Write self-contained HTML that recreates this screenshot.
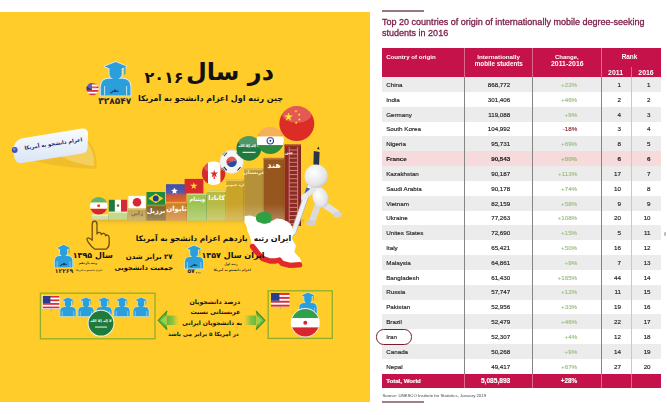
<!DOCTYPE html><html><head><meta charset="utf-8"><title>Top 20 countries</title>
<style>
html,body{margin:0;padding:0;background:#fff;}
#p{position:relative;width:667px;height:415px;overflow:hidden;background:#fff;font-family:"Liberation Sans",sans-serif;}
#y{position:absolute;left:0;top:12px;width:370px;height:390px;background:#FFCC29;}
#ig{position:absolute;left:0;top:0;width:370px;height:415px;}
#ig text{font-family:"DejaVu Sans",sans-serif;font-weight:bold;text-anchor:middle;direction:rtl;}
.t{position:absolute;white-space:nowrap;line-height:1;color:#222;}
.b{font-weight:bold;} .bd{-webkit-text-stroke:0.15px currentColor;} .w{color:#fff;font-weight:bold;}
.r{position:absolute;left:382.4px;width:278.6px;}
.v{position:absolute;width:1px;}
.ttl{color:#7B1C48;-webkit-text-stroke:0.3px #7B1C48;}
#soft{filter:blur(0.45px);}
.bd{font-size:6.25px;}
</style></head><body><div id="p"><div id="soft">
<div id="y"></div>

<svg id="ig" viewBox="0 0 370 415" width="370" height="415">
<text x="164" y="83" font-size="16" fill="#111">۲۰۱۶</text><text x="230" y="79.7" font-size="24" fill="#111">در سال</text><text x="210.5" y="101.1" font-size="8" fill="#111">چین رتبه اول اعزام دانشجو به آمریکا</text><g fill="#D8F0FF" stroke="#D8F0FF" stroke-width="1.8" stroke-linejoin="round" opacity="0.9"><path d="M100.8 95.4V87.0Q100.8 78.7 109.1 78.7H122.1Q130.4 78.7 130.4 87.0V95.4Z"/><circle cx="115.6" cy="73.4" r="6.2"/><path d="M104.6 66.5L115.6 62.0L126.6 66.5L115.6 71.0Z"/><path d="M109.5 68.3V72.1Q115.6 75.1 121.7 72.1V68.3Z"/></g><g fill="#2B9FDC"><path d="M100.8 95.4V87.0Q100.8 78.7 109.1 78.7H122.1Q130.4 78.7 130.4 87.0V95.4Z"/><circle cx="115.6" cy="73.4" r="6.2"/><path d="M104.6 66.5L115.6 62.0L126.6 66.5L115.6 71.0Z"/><path d="M109.5 68.3V72.1Q115.6 75.1 121.7 72.1V68.3Z"/></g><path d="M124.8 66.5V74.6" stroke="#2B9FDC" stroke-width="1.2" fill="none"/><path d="M104.6 95.4V86.0M126.6 95.4V86.0" stroke="#CFEAFB" stroke-width="0.9" fill="none"/><text x="114.5" y="91.5" font-size="5" fill="#1b2a44">نفر</text><clipPath id="cf1"><circle cx="92.5" cy="89.1" r="6.3"/></clipPath><g clip-path="url(#cf1)"><rect x="86.2" y="82.8" width="12.6" height="12.6" fill="#fff"/><rect x="86.2" y="82.80" width="12.6" height="1.80" fill="#D6303A"/><rect x="86.2" y="86.40" width="12.6" height="1.80" fill="#D6303A"/><rect x="86.2" y="90.00" width="12.6" height="1.80" fill="#D6303A"/><rect x="86.2" y="93.60" width="12.6" height="1.80" fill="#D6303A"/><rect x="86.2" y="82.8" width="5.7" height="7.2" fill="#2A3C8E"/><ellipse cx="92.5" cy="85.6" rx="5.4" ry="3.1" fill="#fff" opacity="0.22"/></g><text x="114.7" y="104" font-size="9" fill="#2b2330">۳۲۸۵۴۷</text>
<path d="M30 160 Q70 150 87 140 Q98 150 96.5 169 Q60 168 30 160Z" fill="#E9B92B" opacity="0.75"/><path d="M60 156 Q80 150 87 142 Q95 152 94 166 Q75 164 60 156Z" fill="#F6D36A" opacity="0.8"/><defs><linearGradient id="tg" x1="0" y1="0" x2="0" y2="1"><stop offset="0" stop-color="#FBFDFF"/><stop offset="1" stop-color="#D9E4F4"/></linearGradient></defs><path d="M13 150.5 Q14 141 21 138.5 L82 128.5 Q87.5 128 88 133 L87.5 148 Q87 152.5 82 153.5 L22 163 Q16 164 14.5 158Z" fill="url(#tg)"/><circle cx="14.7" cy="150" r="2.9" fill="#3B4FB5"/><circle cx="14.2" cy="149.3" r="1.2" fill="#7D8FE0"/><g transform="translate(21.5 145.2) rotate(-8.5)"><text x="31.7" y="5" font-size="5.2" fill="#1a2468">اعزام دانشجو به آمریکا</text></g>
<defs><linearGradient id="rf" x1="0" y1="0" x2="0" y2="1"><stop offset="0" stop-color="#C9A23A" stop-opacity="0.65"/><stop offset="1" stop-color="#FFCC29" stop-opacity="0"/></linearGradient><linearGradient id="bl" x1="0" y1="0" x2="0" y2="1"><stop offset="0.45" stop-color="#fff" stop-opacity="0"/><stop offset="1" stop-color="#fff" stop-opacity="0.28"/></linearGradient></defs><rect x="92" y="219.5" width="212" height="7" fill="url(#rf)"/><rect x="92" y="214.5" width="17.0" height="5.0" fill="#D3E0A2"/><rect x="92" y="214.5" width="17.0" height="1.6" fill="#E6EEC4"/><rect x="108.2" y="214.5" width="0.8" height="5.0" fill="#000" opacity="0.18"/><rect x="109" y="211.5" width="19.0" height="8.0" fill="#C6D88C"/><rect x="109" y="211.5" width="19.0" height="1.6" fill="#E2ECB8"/><rect x="127.2" y="211.5" width="0.8" height="8.0" fill="#000" opacity="0.18"/><rect x="128" y="208.2" width="18.3" height="12.3" fill="#B99B44"/><rect x="128" y="208.2" width="18.3" height="1.6" fill="#D9BE6A"/><rect x="145.5" y="208.2" width="0.8" height="12.3" fill="#000" opacity="0.18"/><text x="137.1" y="215" font-size="5.5" fill="#5a4a14">ژاپن</text><rect x="146.3" y="204.7" width="19.5" height="15.8" fill="#7C5C1E"/><rect x="146.3" y="204.7" width="19.5" height="1.6" fill="#A68432"/><rect x="165.0" y="204.7" width="0.8" height="15.8" fill="#000" opacity="0.18"/><text x="156" y="213" font-size="6.5" fill="#fff">برزیل</text><rect x="165.8" y="201.8" width="21.5" height="18.7" fill="#CE7F22"/><rect x="165.8" y="201.8" width="21.5" height="1.6" fill="#E9A348"/><rect x="186.5" y="201.8" width="0.8" height="18.7" fill="#000" opacity="0.18"/><text x="176.5" y="210.7" font-size="7" fill="#fff">تایوان</text><rect x="187.3" y="193.4" width="19.7" height="27.1" fill="#9DC452"/><rect x="187.3" y="193.4" width="19.7" height="1.6" fill="#C1DE86"/><rect x="206.2" y="193.4" width="0.8" height="27.1" fill="#000" opacity="0.18"/><text x="197.2" y="200.8" font-size="5.5" fill="#fff">ویتنام</text><rect x="207" y="190.4" width="19.3" height="30.1" fill="#B9BB45"/><rect x="207" y="190.4" width="19.3" height="1.6" fill="#D9DA78"/><rect x="225.5" y="190.4" width="0.8" height="30.1" fill="#000" opacity="0.18"/><text x="216.6" y="199.5" font-size="6.5" fill="#fff">کانادا</text><rect x="226.3" y="179.5" width="18.0" height="41.0" fill="#C9A32A"/><rect x="226.3" y="179.5" width="18.0" height="1.6" fill="#E4C55C"/><rect x="243.5" y="179.5" width="0.8" height="41.0" fill="#000" opacity="0.18"/><text x="235.3" y="185.5" font-size="3.8" fill="#f6ecc6">کره جنوبی</text><rect x="244.3" y="168.7" width="19.3" height="51.8" fill="#B5923A"/><rect x="244.3" y="168.7" width="19.3" height="1.6" fill="#D6B866"/><rect x="262.8" y="168.7" width="0.8" height="51.8" fill="#000" opacity="0.18"/><text x="254" y="174.2" font-size="5" fill="#f6ecc6">عربستان</text><rect x="263.6" y="157.9" width="20.9" height="62.6" fill="#96561E"/><rect x="263.6" y="157.9" width="20.9" height="1.6" fill="#B97A3C"/><rect x="283.7" y="157.9" width="0.8" height="62.6" fill="#000" opacity="0.18"/><text x="274" y="167.5" font-size="8" fill="#fff">هند</text><rect x="284.5" y="144.6" width="16.5" height="81.4" fill="#8C2A24"/><rect x="284.5" y="144.6" width="16.5" height="1.6" fill="#B0443C"/><rect x="300.2" y="144.6" width="0.8" height="81.4" fill="#000" opacity="0.18"/><rect x="128" y="190" width="156.5" height="30.5" fill="url(#bl)"/><path d="M289.2 147V226M297.6 147V226M289.2 150H297.6M289.2 154.1H297.6M289.2 158.2H297.6M289.2 162.29999999999998H297.6M289.2 166.39999999999998H297.6M289.2 170.49999999999997H297.6M289.2 174.59999999999997H297.6M289.2 178.69999999999996H297.6M289.2 182.79999999999995H297.6M289.2 186.89999999999995H297.6M289.2 190.99999999999994H297.6M289.2 195.09999999999994H297.6M289.2 199.19999999999993H297.6M289.2 203.29999999999993H297.6M289.2 207.39999999999992H297.6M289.2 211.49999999999991H297.6M289.2 215.5999999999999H297.6M289.2 219.6999999999999H297.6M289.2 223.7999999999999H297.6" stroke="#D98A84" stroke-width="0.9" fill="none"/><text x="288.9" y="153.5" font-size="4" fill="#fff">چین</text><clipPath id="cf2"><circle cx="98.7" cy="205.7" r="8.8"/></clipPath><g clip-path="url(#cf2)"><rect x="89" y="196" width="20" height="6.6" fill="#2FA14A"/><rect x="89" y="202.6" width="20" height="6.2" fill="#fff"/><rect x="89" y="208.8" width="20" height="7" fill="#D9262C"/><circle cx="98.7" cy="205.7" r="1.4" fill="#D9262C"/><ellipse cx="98.7" cy="200.9" rx="7.5" ry="4.4" fill="#fff" opacity="0.22"/></g><rect x="108.8" y="199.8" width="6.1" height="11.7" fill="#1E7A45"/><rect x="114.9" y="199.8" width="6.1" height="11.7" fill="#fff"/><rect x="121" y="199.8" width="6.1" height="11.7" fill="#D12B33"/><circle cx="118" cy="205.6" r="1.3" fill="#8a6a3a"/><rect x="128.4" y="195.9" width="17.2" height="12.3" fill="#fff"/><circle cx="137" cy="202.2" r="4.3" fill="#D8262E"/><rect x="146.5" y="192" width="18.6" height="12.7" fill="#1E8A3E"/><polygon points="148.3,198.4 155.8,193.6 163.3,198.4 155.8,203.2" fill="#F6D32A"/><circle cx="155.8" cy="198.4" r="2.9" fill="#1E3A8A"/><defs><linearGradient id="tw" x1="0" y1="0" x2="0" y2="1"><stop offset="0" stop-color="#3B4FB0"/><stop offset="0.5" stop-color="#5A5AA8"/><stop offset="0.62" stop-color="#C85A3A"/><stop offset="1" stop-color="#E0662A"/></linearGradient></defs><rect x="166" y="184.2" width="20.5" height="17.6" fill="url(#tw)"/><polygon points="174.5,187.4 175.3,189.8 177.9,189.9 175.9,191.4 176.6,193.9 174.5,192.4 172.4,193.9 173.1,191.4 171.1,189.9 173.7,189.8" fill="#fff"/><circle cx="174.5" cy="191" r="1.8" fill="#fff"/><rect x="184.6" y="178.9" width="18.8" height="14.5" fill="#D7282D"/><polygon points="193.8,182.2 194.7,184.8 197.4,184.8 195.2,186.5 196.0,189.1 193.8,187.5 191.6,189.1 192.4,186.5 190.2,184.8 192.9,184.8" fill="#FFDE2A"/><clipPath id="cf3"><circle cx="213.6" cy="173.2" r="11.7"/></clipPath><g clip-path="url(#cf3)"><rect x="201" y="161" width="7" height="25" fill="#D7282D"/><rect x="208" y="161" width="12.5" height="25" fill="#fff"/><rect x="220.5" y="161" width="6" height="25" fill="#D7282D"/><polygon points="214.2,169.6 215.2,172.4 218.2,172.5 215.8,174.3 216.7,177.2 214.2,175.5 211.7,177.2 212.6,174.3 210.2,172.5 213.2,172.4" fill="#D7282D"/><rect x="213.6" y="176" width="1.2" height="3" fill="#D7282D"/><ellipse cx="213.6" cy="166.8" rx="9.9" ry="5.8" fill="#fff" opacity="0.22"/></g><clipPath id="cf4"><circle cx="231.6" cy="161.8" r="11.7"/></clipPath><g clip-path="url(#cf4)"><rect x="219" y="149" width="26" height="26" fill="#F4F4F4"/><path d="M226.4 161.8a5.2 5.2 0 0 1 10.4 0z" fill="#D7282D" transform="rotate(-20 231.6 161.8)"/><path d="M226.4 161.8a5.2 5.2 0 0 0 10.4 0z" fill="#2A4CA0" transform="rotate(-20 231.6 161.8)"/><g stroke="#222" stroke-width="1.1"><path d="M222.5 155l3-3.5M224 156.2l3-3.5M237.5 170.5l3-3.5M239 171.8l3-3.5M236.5 152.5l3 3.5M238 151.2l3 3.5M222.2 168l3 3.5M223.8 166.8l3 3.5"/></g><ellipse cx="231.6" cy="155.4" rx="9.9" ry="5.8" fill="#fff" opacity="0.22"/></g><circle cx="231.6" cy="161.8" r="11.7" fill="none" stroke="#ddd" stroke-width="0.6"/><clipPath id="cf5"><circle cx="248.9" cy="148.3" r="12.4"/></clipPath><g clip-path="url(#cf5)"><rect x="236" y="135" width="26" height="27" fill="#1F7A3E"/><text x="249" y="147.2" font-size="3.6" font-weight="normal" fill="#fff">لا إله إلا الله</text><rect x="242.5" y="151.8" width="13" height="1" fill="#fff"/><ellipse cx="248.9" cy="141.5" rx="10.5" ry="6.2" fill="#fff" opacity="0.22"/></g><clipPath id="cf6"><circle cx="270.3" cy="140.5" r="13.5"/></clipPath><g clip-path="url(#cf6)"><rect x="256" y="126" width="29" height="10.5" fill="#F39A2E"/><rect x="256" y="136.5" width="29" height="8.6" fill="#fff"/><rect x="256" y="145.1" width="29" height="10" fill="#2E8B3A"/><circle cx="270.3" cy="140.8" r="3.2" fill="none" stroke="#2A3C9A" stroke-width="1.1"/><circle cx="270.3" cy="140.8" r="1" fill="#2A3C9A"/><ellipse cx="270.3" cy="133.1" rx="11.5" ry="6.8" fill="#fff" opacity="0.22"/></g><clipPath id="cf7"><circle cx="296.8" cy="123.6" r="17.5"/></clipPath><g clip-path="url(#cf7)"><rect x="278" y="105" width="38" height="38" fill="#DD2B26"/><polygon points="288.5,112.4 289.6,115.5 292.9,115.6 290.2,117.6 291.2,120.7 288.5,118.8 285.8,120.7 286.8,117.6 284.1,115.6 287.4,115.5" fill="#FFDE00"/><polygon points="296.0,109.6 296.4,110.7 297.5,110.7 296.6,111.4 296.9,112.5 296.0,111.8 295.1,112.5 295.4,111.4 294.5,110.7 295.6,110.7" fill="#FFDE00"/><polygon points="299.2,113.0 299.6,114.1 300.7,114.1 299.8,114.8 300.1,115.9 299.2,115.2 298.3,115.9 298.6,114.8 297.7,114.1 298.8,114.1" fill="#FFDE00"/><polygon points="299.4,117.8 299.8,118.9 300.9,118.9 300.0,119.6 300.3,120.7 299.4,120.0 298.5,120.7 298.8,119.6 297.9,118.9 299.0,118.9" fill="#FFDE00"/><polygon points="296.2,121.2 296.6,122.3 297.7,122.3 296.8,123.0 297.1,124.1 296.2,123.4 295.3,124.1 295.6,123.0 294.7,122.3 295.8,122.3" fill="#FFDE00"/><ellipse cx="296.8" cy="114.0" rx="14.9" ry="8.8" fill="#fff" opacity="0.22"/></g>
<defs><radialGradient id="wg" cx="0.4" cy="0.35" r="0.75"><stop offset="0" stop-color="#FFFFFF"/><stop offset="0.7" stop-color="#E4E4E6"/><stop offset="1" stop-color="#B9BABF"/></radialGradient></defs><path d="M322 203 L336 212.5" stroke="#E2E2E4" stroke-width="6.5" stroke-linecap="round"/><ellipse cx="337.5" cy="214.5" rx="4.2" ry="3" fill="#D6D6DA"/><path d="M318 205 L312.5 220" stroke="#DADADD" stroke-width="6.5" stroke-linecap="round"/><ellipse cx="311" cy="223" rx="4.8" ry="3" fill="#CFCFD4"/><ellipse cx="320.5" cy="197.5" rx="7.8" ry="10.5" fill="url(#wg)" transform="rotate(-20 320.5 197.5)"/><path d="M314.6 164.8 L319.2 166.2 L295.6 233.8 L291.4 237 L290.8 232.2Z" fill="#F1F1F3" stroke="#A9AAB2" stroke-width="0.7"/><path d="M313.8 151 L319.6 152 L319 166 L313.4 164.6Z" fill="#2B3548"/><path d="M317 149 l1.6 -2.6 l0.9 3Z" fill="#1b2233"/><path d="M306.6 187.5 L310.4 188.8 L308.6 194 L304.8 192.8Z" fill="#3A5FA8"/><path d="M314 189 L305 196.5" stroke="#E6E6E8" stroke-width="5" stroke-linecap="round"/><circle cx="304.4" cy="197.2" r="3.2" fill="#EDEDEF"/><circle cx="316.2" cy="176.2" r="11.6" fill="url(#wg)"/>
<path d="M245.2 216.7L250 216L255.3 217.5L257 220L262 222.5L268 222L272.6 221.4L277 219L282 219.9L287 222L290.6 225.3L292 229L292.9 232.4L291.3 238.6L293 242L295.3 245.7L293.7 252L296 255L299.2 258.2L300.5 261L298.4 264.8L292 265L286 264L282 262.5L279 258.5L275.7 259.8L270 259.6L263.2 257L258 251.5L253 245.7L251.5 241L250.6 236.3L248 231L247.5 226.9L245 222Z" fill="#fff" stroke="#fff" stroke-width="1.2" stroke-linejoin="round"/><path d="M252.6 246.5 L257.6 253 L263 258.6 L270 261 L275.5 261 L279.2 260 L282 263.4 L290 265.4 L299.6 264.8" fill="none" stroke="#E3282B" stroke-width="5.4" stroke-linejoin="round" stroke-linecap="round"/><path d="M256 219 Q255.5 214 259.5 213 Q263 210.8 266.5 212.2 Q271.5 212.5 271.6 217.5 Q272.5 222.5 267.5 223.3 Q263 224.6 260 222.6 Q256.4 222 256 219Z" fill="#2FA044"/><text x="281" y="241" font-size="8" fill="#111">ایران</text><text x="261" y="241" font-size="7.5" fill="#111">رتبه</text>
<text x="191.7" y="241.2" font-size="7.5" fill="#111">یازدهم اعزام دانشجو به آمریکا</text><text x="233" y="258.1" font-size="8" fill="#111">ایران سال ۱۳۵۷</text><text x="149.2" y="258.7" font-size="7" fill="#111">۲۷ برابر شدن</text><text x="143.8" y="270.4" font-size="6.7" fill="#111">جمعیت دانشجویی</text><text x="92.8" y="257.9" font-size="8" fill="#111">سال ۱۳۹۵</text><text x="230.9" y="264.5" font-size="3.2" fill="#3a3424">رتبه اول</text><text x="232.2" y="271.2" font-size="3.3" fill="#3a3424">اعزام دانشجو به آمریکا</text><text x="88" y="263.8" font-size="3.3" fill="#3a3424">رتبه یازدهم</text><text x="89" y="270.7" font-size="2.3" fill="#3a3424">اعزام دانشجو به آمریکا</text><g fill="#D8F0FF" stroke="#D8F0FF" stroke-width="1.1" stroke-linejoin="round" opacity="0.9"><path d="M184.9 268.5V262.2Q184.9 257.0 190.1 257.0H198.1Q203.3 257.0 203.3 262.2V268.5Z"/><circle cx="194.1" cy="253.3" r="3.9"/><path d="M187.3 248.6L194.1 245.5L200.9 248.6L194.1 251.7Z"/><path d="M190.3 249.8V252.5Q194.1 254.5 197.9 252.5V249.8Z"/></g><g fill="#2B9FDC"><path d="M184.9 268.5V262.2Q184.9 257.0 190.1 257.0H198.1Q203.3 257.0 203.3 262.2V268.5Z"/><circle cx="194.1" cy="253.3" r="3.9"/><path d="M187.3 248.6L194.1 245.5L200.9 248.6L194.1 251.7Z"/><path d="M190.3 249.8V252.5Q194.1 254.5 197.9 252.5V249.8Z"/></g><path d="M199.8 248.6V254.2" stroke="#2B9FDC" stroke-width="0.7" fill="none"/><path d="M187.3 268.5V262.1M200.9 268.5V262.1" stroke="#CFEAFB" stroke-width="0.6" fill="none"/><text x="194.1" y="265.6" font-size="4.2" fill="#152238">نفر</text><text x="191.1" y="273.4" font-size="6" fill="#2b2330">۵۷</text><circle cx="196.4" cy="272.8" r="0.5" fill="#2b2330"/><circle cx="198.2" cy="272.8" r="0.5" fill="#2b2330"/><circle cx="200" cy="272.8" r="0.5" fill="#2b2330"/><g fill="#D8F0FF" stroke="#D8F0FF" stroke-width="1.1" stroke-linejoin="round" opacity="0.9"><path d="M54.8 267.4V261.0Q54.8 256.1 59.7 256.1H67.5Q72.4 256.1 72.4 261.0V267.4Z"/><circle cx="63.6" cy="252.5" r="3.7"/><path d="M57.1 247.9L63.6 244.8L70.1 247.9L63.6 250.9Z"/><path d="M60.0 249.1V251.6Q63.6 253.6 67.2 251.6V249.1Z"/></g><g fill="#2B9FDC"><path d="M54.8 267.4V261.0Q54.8 256.1 59.7 256.1H67.5Q72.4 256.1 72.4 261.0V267.4Z"/><circle cx="63.6" cy="252.5" r="3.7"/><path d="M57.1 247.9L63.6 244.8L70.1 247.9L63.6 250.9Z"/><path d="M60.0 249.1V251.6Q63.6 253.6 67.2 251.6V249.1Z"/></g><path d="M69.1 247.9V253.3" stroke="#2B9FDC" stroke-width="0.7" fill="none"/><path d="M57.1 267.4V261.1M70.1 267.4V261.1" stroke="#CFEAFB" stroke-width="0.5" fill="none"/><text x="63.6" y="264.8" font-size="4.2" fill="#152238">نفر</text><text x="64" y="273.3" font-size="6" fill="#2b2330">۱۲۲۶۹</text><path d="M92.2 239.5 V224.4 Q92.2 221.2 94.6 221.2 Q97 221.2 97 224.4 V234 Q97.4 232.2 99.4 232.4 Q101.2 232.6 101.4 234.6 Q102 233 103.8 233.4 Q105.4 233.8 105.6 235.8 Q106.4 234.6 107.8 235.2 Q109.2 235.8 109.2 238 V243 Q109.2 247.2 106.4 249 H94.6 Q91.4 246.8 88.6 242.6 Q86.2 239.4 87.4 238.2 Q89 237 92.2 240.4" fill="none" stroke="#6A4A12" stroke-width="1.25" stroke-linejoin="round" stroke-linecap="round"/>
<rect x="40.4" y="293.2" width="114.6" height="45.6" fill="none" stroke="#8FAF2A" stroke-width="1.3"/><rect x="42.8" y="295.8" width="16.8" height="12.6" fill="#fff"/><rect x="42.8" y="295.80" width="16.8" height="1.80" fill="#D6303A"/><rect x="42.8" y="299.40" width="16.8" height="1.80" fill="#D6303A"/><rect x="42.8" y="303.00" width="16.8" height="1.80" fill="#D6303A"/><rect x="42.8" y="306.60" width="16.8" height="1.80" fill="#D6303A"/><rect x="42.8" y="295.8" width="7.6" height="7.2" fill="#2A3C8E"/><rect x="42.6" y="295.6" width="17.2" height="13" fill="none" stroke="#EFEFF5" stroke-width="0.6"/><path d="M51.2 308.6V311.4" stroke="#9aa" stroke-width="0.8"/><g fill="#D8F0FF" stroke="#D8F0FF" stroke-width="1.0" stroke-linejoin="round" opacity="0.9"><path d="M60.3 316.2V311.2Q60.3 306.9 64.6 306.9H71.4Q75.7 306.9 75.7 311.2V316.2Z"/><circle cx="68.0" cy="303.9" r="3.2"/><path d="M62.3 300.1L68.0 297.6L73.7 300.1L68.0 302.6Z"/><path d="M64.8 301.1V303.2Q68.0 304.9 71.2 303.2V301.1Z"/></g><g fill="#2B9FDC"><path d="M60.3 316.2V311.2Q60.3 306.9 64.6 306.9H71.4Q75.7 306.9 75.7 311.2V316.2Z"/><circle cx="68.0" cy="303.9" r="3.2"/><path d="M62.3 300.1L68.0 297.6L73.7 300.1L68.0 302.6Z"/><path d="M64.8 301.1V303.2Q68.0 304.9 71.2 303.2V301.1Z"/></g><path d="M72.8 300.1V304.6" stroke="#2B9FDC" stroke-width="0.6" fill="none"/><path d="M62.3 316.2V311.0M73.7 316.2V311.0" stroke="#CFEAFB" stroke-width="0.5" fill="none"/><g fill="#D8F0FF" stroke="#D8F0FF" stroke-width="1.0" stroke-linejoin="round" opacity="0.9"><path d="M78.3 316.2V311.2Q78.3 306.9 82.6 306.9H89.4Q93.7 306.9 93.7 311.2V316.2Z"/><circle cx="86.0" cy="303.9" r="3.2"/><path d="M80.3 300.1L86.0 297.6L91.7 300.1L86.0 302.6Z"/><path d="M82.8 301.1V303.2Q86.0 304.9 89.2 303.2V301.1Z"/></g><g fill="#2B9FDC"><path d="M78.3 316.2V311.2Q78.3 306.9 82.6 306.9H89.4Q93.7 306.9 93.7 311.2V316.2Z"/><circle cx="86.0" cy="303.9" r="3.2"/><path d="M80.3 300.1L86.0 297.6L91.7 300.1L86.0 302.6Z"/><path d="M82.8 301.1V303.2Q86.0 304.9 89.2 303.2V301.1Z"/></g><path d="M90.8 300.1V304.6" stroke="#2B9FDC" stroke-width="0.6" fill="none"/><path d="M80.3 316.2V311.0M91.7 316.2V311.0" stroke="#CFEAFB" stroke-width="0.5" fill="none"/><g fill="#D8F0FF" stroke="#D8F0FF" stroke-width="1.0" stroke-linejoin="round" opacity="0.9"><path d="M96.3 316.2V311.2Q96.3 306.9 100.6 306.9H107.4Q111.7 306.9 111.7 311.2V316.2Z"/><circle cx="104.0" cy="303.9" r="3.2"/><path d="M98.3 300.1L104.0 297.6L109.7 300.1L104.0 302.6Z"/><path d="M100.8 301.1V303.2Q104.0 304.9 107.2 303.2V301.1Z"/></g><g fill="#2B9FDC"><path d="M96.3 316.2V311.2Q96.3 306.9 100.6 306.9H107.4Q111.7 306.9 111.7 311.2V316.2Z"/><circle cx="104.0" cy="303.9" r="3.2"/><path d="M98.3 300.1L104.0 297.6L109.7 300.1L104.0 302.6Z"/><path d="M100.8 301.1V303.2Q104.0 304.9 107.2 303.2V301.1Z"/></g><path d="M108.8 300.1V304.6" stroke="#2B9FDC" stroke-width="0.6" fill="none"/><path d="M98.3 316.2V311.0M109.7 316.2V311.0" stroke="#CFEAFB" stroke-width="0.5" fill="none"/><g fill="#D8F0FF" stroke="#D8F0FF" stroke-width="1.0" stroke-linejoin="round" opacity="0.9"><path d="M114.3 316.2V311.2Q114.3 306.9 118.6 306.9H125.4Q129.7 306.9 129.7 311.2V316.2Z"/><circle cx="122.0" cy="303.9" r="3.2"/><path d="M116.3 300.1L122.0 297.6L127.7 300.1L122.0 302.6Z"/><path d="M118.8 301.1V303.2Q122.0 304.9 125.2 303.2V301.1Z"/></g><g fill="#2B9FDC"><path d="M114.3 316.2V311.2Q114.3 306.9 118.6 306.9H125.4Q129.7 306.9 129.7 311.2V316.2Z"/><circle cx="122.0" cy="303.9" r="3.2"/><path d="M116.3 300.1L122.0 297.6L127.7 300.1L122.0 302.6Z"/><path d="M118.8 301.1V303.2Q122.0 304.9 125.2 303.2V301.1Z"/></g><path d="M126.8 300.1V304.6" stroke="#2B9FDC" stroke-width="0.6" fill="none"/><path d="M116.3 316.2V311.0M127.7 316.2V311.0" stroke="#CFEAFB" stroke-width="0.5" fill="none"/><g fill="#D8F0FF" stroke="#D8F0FF" stroke-width="1.0" stroke-linejoin="round" opacity="0.9"><path d="M133.3 316.2V311.2Q133.3 306.9 137.6 306.9H144.4Q148.7 306.9 148.7 311.2V316.2Z"/><circle cx="141.0" cy="303.9" r="3.2"/><path d="M135.3 300.1L141.0 297.6L146.7 300.1L141.0 302.6Z"/><path d="M137.8 301.1V303.2Q141.0 304.9 144.2 303.2V301.1Z"/></g><g fill="#2B9FDC"><path d="M133.3 316.2V311.2Q133.3 306.9 137.6 306.9H144.4Q148.7 306.9 148.7 311.2V316.2Z"/><circle cx="141.0" cy="303.9" r="3.2"/><path d="M135.3 300.1L141.0 297.6L146.7 300.1L141.0 302.6Z"/><path d="M137.8 301.1V303.2Q141.0 304.9 144.2 303.2V301.1Z"/></g><path d="M145.8 300.1V304.6" stroke="#2B9FDC" stroke-width="0.6" fill="none"/><path d="M135.3 316.2V311.0M146.7 316.2V311.0" stroke="#CFEAFB" stroke-width="0.5" fill="none"/><circle cx="101" cy="323.2" r="13.4" fill="#E9F3E4"/><clipPath id="cf8"><circle cx="101" cy="323.2" r="12.4"/></clipPath><g clip-path="url(#cf8)"><rect x="88" y="310" width="27" height="27" fill="#1E7B3C"/><text x="101" y="322.1" font-size="3.6" font-weight="normal" fill="#fff">لا إله إلا الله</text><rect x="95" y="326.6" width="12" height="0.9" fill="#fff"/></g><defs><linearGradient id="agl" gradientUnits="userSpaceOnUse" x1="166.9" y1="0" x2="179.2" y2="0"><stop offset="0" stop-color="#63B83E"/><stop offset="0.45" stop-color="#7CC242" stop-opacity="0.9"/><stop offset="1" stop-color="#A5CC38" stop-opacity="0"/></linearGradient></defs><rect x="166.9" y="315.5" width="12.3" height="9.6" fill="url(#agl)"/><path d="M158.2 320.3L166.9 311.1L165.7 315.5L165.7 325.1L166.9 329.5Z" fill="#63B83E" stroke="#3F962E" stroke-width="1.1" stroke-linejoin="round"/><path d="M160.8 320.3L166.3 315.2L166.3 325.4Z" fill="#8AD45A"/><defs><linearGradient id="agr" gradientUnits="userSpaceOnUse" x1="256.3" y1="0" x2="243.6" y2="0"><stop offset="0" stop-color="#63B83E"/><stop offset="0.45" stop-color="#7CC242" stop-opacity="0.9"/><stop offset="1" stop-color="#A5CC38" stop-opacity="0"/></linearGradient></defs><rect x="243.6" y="315.5" width="12.7" height="9.6" fill="url(#agr)"/><path d="M265.0 320.3L256.3 311.1L257.5 315.5L257.5 325.1L256.3 329.5Z" fill="#63B83E" stroke="#3F962E" stroke-width="1.1" stroke-linejoin="round"/><path d="M262.4 320.3L256.9 315.2L256.9 325.4Z" fill="#8AD45A"/><text x="214.8" y="304.4" font-size="6.2" fill="#111">درصد دانشجویان</text><text x="215.4" y="314.4" font-size="6.2" fill="#111">عربستانی نسبت</text><text x="212.2" y="325.1" font-size="6" fill="#111">به دانشجویان ایرانی</text><text x="203.4" y="335.5" font-size="5.6" fill="#111">در آمریکا ۵ برابر می باشد</text><rect x="268.2" y="290.8" width="64.1" height="47.6" fill="none" stroke="#8FAF2A" stroke-width="1.3"/><rect x="271" y="293" width="18.6" height="13.6" fill="#fff"/><rect x="271" y="293.00" width="18.6" height="1.94" fill="#D6303A"/><rect x="271" y="296.89" width="18.6" height="1.94" fill="#D6303A"/><rect x="271" y="300.77" width="18.6" height="1.94" fill="#D6303A"/><rect x="271" y="304.66" width="18.6" height="1.94" fill="#D6303A"/><rect x="271" y="293" width="8.4" height="7.8" fill="#2A3C8E"/><path d="M280.3 306.6V309.4" stroke="#9aa" stroke-width="0.8"/><g fill="#D8F0FF" stroke="#D8F0FF" stroke-width="1.1" stroke-linejoin="round" opacity="0.9"><path d="M299.2 313.6V308.0Q299.2 303.1 304.1 303.1H311.9Q316.8 303.1 316.8 308.0V313.6Z"/><circle cx="308.0" cy="299.7" r="3.7"/><path d="M301.5 295.4L308.0 292.6L314.5 295.4L308.0 298.3Z"/><path d="M304.4 296.6V299.0Q308.0 300.8 311.6 299.0V296.6Z"/></g><g fill="#2B9FDC"><path d="M299.2 313.6V308.0Q299.2 303.1 304.1 303.1H311.9Q316.8 303.1 316.8 308.0V313.6Z"/><circle cx="308.0" cy="299.7" r="3.7"/><path d="M301.5 295.4L308.0 292.6L314.5 295.4L308.0 298.3Z"/><path d="M304.4 296.6V299.0Q308.0 300.8 311.6 299.0V296.6Z"/></g><path d="M313.4 295.4V300.5" stroke="#2B9FDC" stroke-width="0.7" fill="none"/><path d="M301.5 313.6V307.7M314.5 313.6V307.7" stroke="#CFEAFB" stroke-width="0.5" fill="none"/><circle cx="305.3" cy="322.7" r="14.6" fill="#F3F3F3"/><clipPath id="cf9"><circle cx="305.3" cy="322.7" r="13.8"/></clipPath><g clip-path="url(#cf9)"><rect x="290" y="308" width="31" height="10.2" fill="#2FA14A"/><rect x="290" y="318.2" width="31" height="9.2" fill="#fff"/><rect x="290" y="327.4" width="31" height="10" fill="#D9262C"/><circle cx="305.3" cy="322.8" r="2" fill="#D9262C"/></g>
</svg>
<div style="position:absolute;left:382px;top:10.3px;width:42px;height:1.8px;background:#957682"></div>
<div style="position:absolute;left:382px;top:400.8px;width:42px;height:1.8px;background:#A07F8B"></div>
<span class="t ttl" id="t1" style="left:382px;top:17.9px;font-size:9.03px;">Top 20 countries of origin of internationally mobile degree-seeking</span>
<span class="t ttl" id="t2" style="left:382px;top:28.7px;font-size:9.03px;">students in 2016</span>
<div class="r" style="top:48.0px;height:29.200000000000003px;background:#C5124A"></div>
<div class="r" style="top:77.20px;height:14.87px;background:#ECECEC"></div>
<div class="r" style="top:92.02px;height:14.87px;background:#FFFFFF"></div>
<div class="r" style="top:106.84px;height:14.87px;background:#ECECEC"></div>
<div class="r" style="top:121.66px;height:14.87px;background:#FFFFFF"></div>
<div class="r" style="top:136.48px;height:14.87px;background:#ECECEC"></div>
<div class="r" style="top:151.30px;height:14.87px;background:#F7DADB"></div>
<div class="r" style="top:166.12px;height:14.87px;background:#ECECEC"></div>
<div class="r" style="top:180.94px;height:14.87px;background:#FFFFFF"></div>
<div class="r" style="top:195.76px;height:14.87px;background:#ECECEC"></div>
<div class="r" style="top:210.58px;height:14.87px;background:#FFFFFF"></div>
<div class="r" style="top:225.40px;height:14.87px;background:#ECECEC"></div>
<div class="r" style="top:240.22px;height:14.87px;background:#FFFFFF"></div>
<div class="r" style="top:255.04px;height:14.87px;background:#ECECEC"></div>
<div class="r" style="top:269.86px;height:14.87px;background:#FFFFFF"></div>
<div class="r" style="top:284.68px;height:14.87px;background:#ECECEC"></div>
<div class="r" style="top:299.50px;height:14.87px;background:#FFFFFF"></div>
<div class="r" style="top:314.32px;height:14.87px;background:#ECECEC"></div>
<div class="r" style="top:329.14px;height:14.87px;background:#FFFFFF"></div>
<div class="r" style="top:343.96px;height:14.87px;background:#ECECEC"></div>
<div class="r" style="top:358.78px;height:14.87px;background:#FFFFFF"></div>
<div class="r" style="top:373.6px;height:14.399999999999977px;background:#C5124A"></div>
<div class="v" style="left:464.1px;top:77.2px;height:296.40000000000003px;background:#858585"></div>
<div class="v" style="left:532.3px;top:77.2px;height:296.40000000000003px;background:#858585"></div>
<div class="v" style="left:600.8px;top:77.2px;height:296.40000000000003px;background:#858585"></div>
<div class="v" style="left:631.2px;top:77.2px;height:296.40000000000003px;background:#c8c8c8"></div>
<div class="v" style="left:464.1px;top:48.0px;height:29.200000000000003px;background:#DC6A8E"></div>
<div class="v" style="left:532.3px;top:48.0px;height:29.200000000000003px;background:#DC6A8E"></div>
<div class="v" style="left:600.8px;top:48.0px;height:29.200000000000003px;background:#DC6A8E"></div>
<div class="v" style="left:631.2px;top:67px;height:10.200000000000003px;background:#DC6A8E"></div>
<div class="v" style="left:464.1px;top:373.6px;height:14.399999999999977px;background:#DC6A8E"></div>
<div class="v" style="left:532.3px;top:373.6px;height:14.399999999999977px;background:#DC6A8E"></div>
<div class="v" style="left:600.8px;top:373.6px;height:14.399999999999977px;background:#DC6A8E"></div>
<div class="v" style="left:631.2px;top:373.6px;height:14.399999999999977px;background:#DC6A8E"></div>
<span class="t w" id="h1" style="left:386.2px;top:56.6px;transform:translate(0,-50%);font-size:6.1px;">Country of origin</span>
<span class="t w" id="h2a" style="left:498.6px;top:56.6px;transform:translate(-50%,-50%);font-size:6.25px;">Internationally</span>
<span class="t w" id="h2b" style="left:498.8px;top:64.0px;transform:translate(-50%,-50%);font-size:6.28px;">mobile students</span>
<span class="t w" id="h3a" style="left:566.8px;top:56.6px;transform:translate(-50%,-50%);font-size:6.0px;">Change,</span>
<span class="t w" id="h3b" style="left:567.3px;top:64.2px;transform:translate(-50%,-50%);font-size:6.9px;">2011-2016</span>
<span class="t w" id="h4" style="left:629.5px;top:56.6px;transform:translate(-50%,-50%);font-size:6.4px;">Rank</span>
<span class="t w" id="h5" style="left:615.6px;top:73.0px;transform:translate(-50%,-50%);font-size:6.9px;">2011</span>
<span class="t w" id="h6" style="left:646.0px;top:73.0px;transform:translate(-50%,-50%);font-size:6.9px;">2016</span>
<span class="t bd" id="c0" style="left:386.2px;top:85.01px;transform:translate(0,-50%);">China</span>
<span class="t bd" id="n0" style="left:510.3px;top:85.01px;transform:translate(-100%,-50%);">868,772</span>
<span class="t bd" id="g0" style="left:577.2px;top:85.01px;transform:translate(-100%,-50%);color:#9DBF82;">+22%</span>
<span class="t bd" id="a0" style="left:621.0px;top:85.01px;transform:translate(-100%,-50%);">1</span>
<span class="t bd" id="z0" style="left:650.6px;top:85.01px;transform:translate(-100%,-50%);">1</span>
<span class="t bd" id="c1" style="left:386.2px;top:99.83000000000001px;transform:translate(0,-50%);">India</span>
<span class="t bd" id="n1" style="left:510.3px;top:99.83000000000001px;transform:translate(-100%,-50%);">301,406</span>
<span class="t bd" id="g1" style="left:577.2px;top:99.83000000000001px;transform:translate(-100%,-50%);color:#9DBF82;">+46%</span>
<span class="t bd" id="a1" style="left:621.0px;top:99.83000000000001px;transform:translate(-100%,-50%);">2</span>
<span class="t bd" id="z1" style="left:650.6px;top:99.83000000000001px;transform:translate(-100%,-50%);">2</span>
<span class="t bd" id="c2" style="left:386.2px;top:114.65px;transform:translate(0,-50%);">Germany</span>
<span class="t bd" id="n2" style="left:510.3px;top:114.65px;transform:translate(-100%,-50%);">119,088</span>
<span class="t bd" id="g2" style="left:577.2px;top:114.65px;transform:translate(-100%,-50%);color:#9DBF82;">+9%</span>
<span class="t bd" id="a2" style="left:621.0px;top:114.65px;transform:translate(-100%,-50%);">4</span>
<span class="t bd" id="z2" style="left:650.6px;top:114.65px;transform:translate(-100%,-50%);">3</span>
<span class="t bd" id="c3" style="left:386.2px;top:129.47000000000003px;transform:translate(0,-50%);">South Korea</span>
<span class="t bd" id="n3" style="left:510.3px;top:129.47000000000003px;transform:translate(-100%,-50%);">104,992</span>
<span class="t bd" id="g3" style="left:577.2px;top:129.47000000000003px;transform:translate(-100%,-50%);color:#8E2A3C;">-18%</span>
<span class="t bd" id="a3" style="left:621.0px;top:129.47000000000003px;transform:translate(-100%,-50%);">3</span>
<span class="t bd" id="z3" style="left:650.6px;top:129.47000000000003px;transform:translate(-100%,-50%);">4</span>
<span class="t bd" id="c4" style="left:386.2px;top:144.29000000000002px;transform:translate(0,-50%);">Nigeria</span>
<span class="t bd" id="n4" style="left:510.3px;top:144.29000000000002px;transform:translate(-100%,-50%);">95,731</span>
<span class="t bd" id="g4" style="left:577.2px;top:144.29000000000002px;transform:translate(-100%,-50%);color:#9DBF82;">+69%</span>
<span class="t bd" id="a4" style="left:621.0px;top:144.29000000000002px;transform:translate(-100%,-50%);">8</span>
<span class="t bd" id="z4" style="left:650.6px;top:144.29000000000002px;transform:translate(-100%,-50%);">5</span>
<span class="t bd b" id="c5" style="left:386.2px;top:159.11px;transform:translate(0,-50%);">France</span>
<span class="t bd b" id="n5" style="left:510.3px;top:159.11px;transform:translate(-100%,-50%);">90,543</span>
<span class="t bd b" id="g5" style="left:577.2px;top:159.11px;transform:translate(-100%,-50%);color:#9DBF82;">+50%</span>
<span class="t bd b" id="a5" style="left:621.0px;top:159.11px;transform:translate(-100%,-50%);">6</span>
<span class="t bd b" id="z5" style="left:650.6px;top:159.11px;transform:translate(-100%,-50%);">6</span>
<span class="t bd" id="c6" style="left:386.2px;top:173.93px;transform:translate(0,-50%);">Kazakhstan</span>
<span class="t bd" id="n6" style="left:510.3px;top:173.93px;transform:translate(-100%,-50%);">90,187</span>
<span class="t bd" id="g6" style="left:577.2px;top:173.93px;transform:translate(-100%,-50%);color:#9DBF82;">+113%</span>
<span class="t bd" id="a6" style="left:621.0px;top:173.93px;transform:translate(-100%,-50%);">17</span>
<span class="t bd" id="z6" style="left:650.6px;top:173.93px;transform:translate(-100%,-50%);">7</span>
<span class="t bd" id="c7" style="left:386.2px;top:188.75px;transform:translate(0,-50%);">Saudi Arabia</span>
<span class="t bd" id="n7" style="left:510.3px;top:188.75px;transform:translate(-100%,-50%);">90,178</span>
<span class="t bd" id="g7" style="left:577.2px;top:188.75px;transform:translate(-100%,-50%);color:#9DBF82;">+74%</span>
<span class="t bd" id="a7" style="left:621.0px;top:188.75px;transform:translate(-100%,-50%);">10</span>
<span class="t bd" id="z7" style="left:650.6px;top:188.75px;transform:translate(-100%,-50%);">8</span>
<span class="t bd" id="c8" style="left:386.2px;top:203.57000000000002px;transform:translate(0,-50%);">Vietnam</span>
<span class="t bd" id="n8" style="left:510.3px;top:203.57000000000002px;transform:translate(-100%,-50%);">82,159</span>
<span class="t bd" id="g8" style="left:577.2px;top:203.57000000000002px;transform:translate(-100%,-50%);color:#9DBF82;">+58%</span>
<span class="t bd" id="a8" style="left:621.0px;top:203.57000000000002px;transform:translate(-100%,-50%);">9</span>
<span class="t bd" id="z8" style="left:650.6px;top:203.57000000000002px;transform:translate(-100%,-50%);">9</span>
<span class="t bd" id="c9" style="left:386.2px;top:218.39000000000004px;transform:translate(0,-50%);">Ukraine</span>
<span class="t bd" id="n9" style="left:510.3px;top:218.39000000000004px;transform:translate(-100%,-50%);">77,263</span>
<span class="t bd" id="g9" style="left:577.2px;top:218.39000000000004px;transform:translate(-100%,-50%);color:#9DBF82;">+108%</span>
<span class="t bd" id="a9" style="left:621.0px;top:218.39000000000004px;transform:translate(-100%,-50%);">20</span>
<span class="t bd" id="z9" style="left:650.6px;top:218.39000000000004px;transform:translate(-100%,-50%);">10</span>
<span class="t bd" id="c10" style="left:386.2px;top:233.21000000000004px;transform:translate(0,-50%);">Unites States</span>
<span class="t bd" id="n10" style="left:510.3px;top:233.21000000000004px;transform:translate(-100%,-50%);">72,690</span>
<span class="t bd" id="g10" style="left:577.2px;top:233.21000000000004px;transform:translate(-100%,-50%);color:#9DBF82;">+15%</span>
<span class="t bd" id="a10" style="left:621.0px;top:233.21000000000004px;transform:translate(-100%,-50%);">5</span>
<span class="t bd" id="z10" style="left:650.6px;top:233.21000000000004px;transform:translate(-100%,-50%);">11</span>
<span class="t bd" id="c11" style="left:386.2px;top:248.03000000000003px;transform:translate(0,-50%);">Italy</span>
<span class="t bd" id="n11" style="left:510.3px;top:248.03000000000003px;transform:translate(-100%,-50%);">65,421</span>
<span class="t bd" id="g11" style="left:577.2px;top:248.03000000000003px;transform:translate(-100%,-50%);color:#9DBF82;">+50%</span>
<span class="t bd" id="a11" style="left:621.0px;top:248.03000000000003px;transform:translate(-100%,-50%);">16</span>
<span class="t bd" id="z11" style="left:650.6px;top:248.03000000000003px;transform:translate(-100%,-50%);">12</span>
<span class="t bd" id="c12" style="left:386.2px;top:262.85px;transform:translate(0,-50%);">Malaysia</span>
<span class="t bd" id="n12" style="left:510.3px;top:262.85px;transform:translate(-100%,-50%);">64,861</span>
<span class="t bd" id="g12" style="left:577.2px;top:262.85px;transform:translate(-100%,-50%);color:#9DBF82;">+9%</span>
<span class="t bd" id="a12" style="left:621.0px;top:262.85px;transform:translate(-100%,-50%);">7</span>
<span class="t bd" id="z12" style="left:650.6px;top:262.85px;transform:translate(-100%,-50%);">13</span>
<span class="t bd" id="c13" style="left:386.2px;top:277.67px;transform:translate(0,-50%);">Bangladesh</span>
<span class="t bd" id="n13" style="left:510.3px;top:277.67px;transform:translate(-100%,-50%);">61,430</span>
<span class="t bd" id="g13" style="left:577.2px;top:277.67px;transform:translate(-100%,-50%);color:#9DBF82;">+165%</span>
<span class="t bd" id="a13" style="left:621.0px;top:277.67px;transform:translate(-100%,-50%);">44</span>
<span class="t bd" id="z13" style="left:650.6px;top:277.67px;transform:translate(-100%,-50%);">14</span>
<span class="t bd" id="c14" style="left:386.2px;top:292.49px;transform:translate(0,-50%);">Russia</span>
<span class="t bd" id="n14" style="left:510.3px;top:292.49px;transform:translate(-100%,-50%);">57,747</span>
<span class="t bd" id="g14" style="left:577.2px;top:292.49px;transform:translate(-100%,-50%);color:#9DBF82;">+12%</span>
<span class="t bd" id="a14" style="left:621.0px;top:292.49px;transform:translate(-100%,-50%);">11</span>
<span class="t bd" id="z14" style="left:650.6px;top:292.49px;transform:translate(-100%,-50%);">15</span>
<span class="t bd" id="c15" style="left:386.2px;top:307.31000000000006px;transform:translate(0,-50%);">Pakistan</span>
<span class="t bd" id="n15" style="left:510.3px;top:307.31000000000006px;transform:translate(-100%,-50%);">52,956</span>
<span class="t bd" id="g15" style="left:577.2px;top:307.31000000000006px;transform:translate(-100%,-50%);color:#9DBF82;">+33%</span>
<span class="t bd" id="a15" style="left:621.0px;top:307.31000000000006px;transform:translate(-100%,-50%);">19</span>
<span class="t bd" id="z15" style="left:650.6px;top:307.31000000000006px;transform:translate(-100%,-50%);">16</span>
<span class="t bd" id="c16" style="left:386.2px;top:322.13000000000005px;transform:translate(0,-50%);">Brazil</span>
<span class="t bd" id="n16" style="left:510.3px;top:322.13000000000005px;transform:translate(-100%,-50%);">52,479</span>
<span class="t bd" id="g16" style="left:577.2px;top:322.13000000000005px;transform:translate(-100%,-50%);color:#9DBF82;">+46%</span>
<span class="t bd" id="a16" style="left:621.0px;top:322.13000000000005px;transform:translate(-100%,-50%);">22</span>
<span class="t bd" id="z16" style="left:650.6px;top:322.13000000000005px;transform:translate(-100%,-50%);">17</span>
<span class="t bd" id="c17" style="left:386.2px;top:336.95000000000005px;transform:translate(0,-50%);">Iran</span>
<span class="t bd" id="n17" style="left:510.3px;top:336.95000000000005px;transform:translate(-100%,-50%);">52,307</span>
<span class="t bd" id="g17" style="left:577.2px;top:336.95000000000005px;transform:translate(-100%,-50%);color:#9DBF82;">+4%</span>
<span class="t bd" id="a17" style="left:621.0px;top:336.95000000000005px;transform:translate(-100%,-50%);">12</span>
<span class="t bd" id="z17" style="left:650.6px;top:336.95000000000005px;transform:translate(-100%,-50%);">18</span>
<span class="t bd" id="c18" style="left:386.2px;top:351.77000000000004px;transform:translate(0,-50%);">Canada</span>
<span class="t bd" id="n18" style="left:510.3px;top:351.77000000000004px;transform:translate(-100%,-50%);">50,268</span>
<span class="t bd" id="g18" style="left:577.2px;top:351.77000000000004px;transform:translate(-100%,-50%);color:#9DBF82;">+9%</span>
<span class="t bd" id="a18" style="left:621.0px;top:351.77000000000004px;transform:translate(-100%,-50%);">14</span>
<span class="t bd" id="z18" style="left:650.6px;top:351.77000000000004px;transform:translate(-100%,-50%);">19</span>
<span class="t bd" id="c19" style="left:386.2px;top:366.59000000000003px;transform:translate(0,-50%);">Nepal</span>
<span class="t bd" id="n19" style="left:510.3px;top:366.59000000000003px;transform:translate(-100%,-50%);">49,417</span>
<span class="t bd" id="g19" style="left:577.2px;top:366.59000000000003px;transform:translate(-100%,-50%);color:#9DBF82;">+67%</span>
<span class="t bd" id="a19" style="left:621.0px;top:366.59000000000003px;transform:translate(-100%,-50%);">27</span>
<span class="t bd" id="z19" style="left:650.6px;top:366.59000000000003px;transform:translate(-100%,-50%);">20</span>
<span class="t w bd" id="tt" style="left:386.2px;top:381.1px;transform:translate(0,-50%);font-size:6.1px;">Total, World</span>
<span class="t w bd" id="tn" style="left:510.3px;top:381.1px;transform:translate(-100%,-50%);font-size:6.6px;">5,085,893</span>
<span class="t w bd" id="tg" style="left:577.2px;top:381.1px;transform:translate(-100%,-50%);font-size:6.4px;">+28%</span>
<div style="position:absolute;left:375.6px;top:329px;width:34.4px;height:14px;border:1.4px solid #7E1A2E;border-radius:7.6px;"></div>
<span class="t " id="src" style="left:382.4px;top:395.8px;transform:translate(0,-50%);color:#444;font-size:4.3px;">Source: UNESCO Institute for Statistics, January 2019</span>
<div style="position:absolute;left:664px;top:232px;width:2px;height:4px;border-radius:1px;background:#bbb"></div>
</div></div></body></html>
